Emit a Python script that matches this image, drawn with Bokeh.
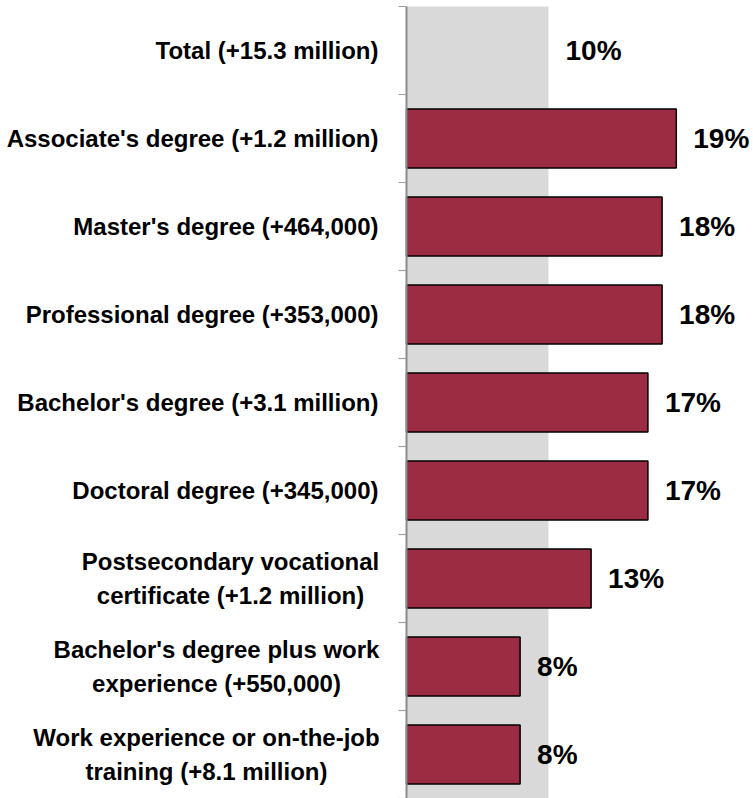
from bokeh.plotting import figure
from bokeh.models import Range1d, ColumnDataSource
from bokeh.core.properties import value
from bokeh.embed import file_html
from bokeh.resources import INLINE

# ---- data ----
categories = [
    "Total (+15.3 million)",
    "Associate's degree (+1.2 million)",
    "Master's degree (+464,000)",
    "Professional degree (+353,000)",
    "Bachelor's degree (+3.1 million)",
    "Doctoral degree (+345,000)",
    "Postsecondary vocational\ncertificate (+1.2 million)",
    "Bachelor's degree plus work\nexperience (+550,000)",
    "Work experience or on-the-job\ntraining (+8.1 million)",
]
values = [10, 19, 18, 18, 17, 17, 13, 8, 8]
value_labels = ["10%", "19%", "18%", "18%", "17%", "17%", "13%", "8%", "8%"]

# ---- layout ----
W, H = 753, 798
AXIS_PX = 406          # axis position inside the canvas
PX_PER_UNIT = 14.2
ROW_PX = 88
TOP_PAD_PX = 6
n = len(categories)

x0 = -AXIS_PX / PX_PER_UNIT
x1 = (W - AXIS_PX) / PX_PER_UNIT

p = figure(width=W, height=H, output_backend="svg", toolbar_location=None,
           x_range=Range1d(x0, x1),
           y_range=Range1d(n, -TOP_PAD_PX / ROW_PX),
           x_axis_type=None, y_axis_type=None, min_border=0,
           outline_line_color=None)
p.xgrid.visible = False
p.ygrid.visible = False
p.background_fill_color = "white"
p.border_fill_color = "white"

ys = [i + 0.5 for i in range(n)]

# grey band = total growth
p.quad(left=[0], right=[values[0]], top=[0], bottom=[n],
       fill_color="#D9D9D9", line_color=None)

# bars (all except total)
bar_src = ColumnDataSource(dict(y=ys[1:], v=values[1:]))
p.hbar(y="y", left=0, right="v", height=0.67, source=bar_src,
       fill_color="#9B2C42", line_color="black", line_width=1.5)

# axis line and ticks
tick_len = 8 / PX_PER_UNIT
p.segment(x0=[0], y0=[0], x1=[0], y1=[n], line_color="#8C8C8C", line_width=2)
p.segment(x0=[-tick_len] * (n + 1), y0=list(range(n + 1)),
          x1=[0] * (n + 1), y1=list(range(n + 1)),
          line_color="#A0A0A0", line_width=1.2)

# value labels
lab_src = ColumnDataSource(dict(x=values, y=ys, t=value_labels))
p.text(x="x", y="y", text="t", source=lab_src, x_offset=17,
       text_align="left", text_baseline="middle",
       text_font=value("Liberation Sans"), text_font_style="bold",
       text_font_size="28px", text_color="black")

# category labels
offsets = []
aligns = []
centers = {6: -176, 7: -190, 8: -200}
for i, c in enumerate(categories):
    if i in centers:
        offsets.append(centers[i])
        aligns.append("center")
    else:
        offsets.append(-28)
        aligns.append("right")
cat_src = ColumnDataSource(dict(x=[0] * n, y=ys, t=categories,
                                xo=offsets, al=aligns))
p.text(x="x", y="y", text="t", source=cat_src, x_offset="xo",
       text_align="al", text_baseline="middle",
       text_font=value("Liberation Sans"), text_font_style="bold",
       text_font_size="24px", text_line_height=1.29, text_color="black")

open("out.html", "w").write(file_html(p, INLINE))
